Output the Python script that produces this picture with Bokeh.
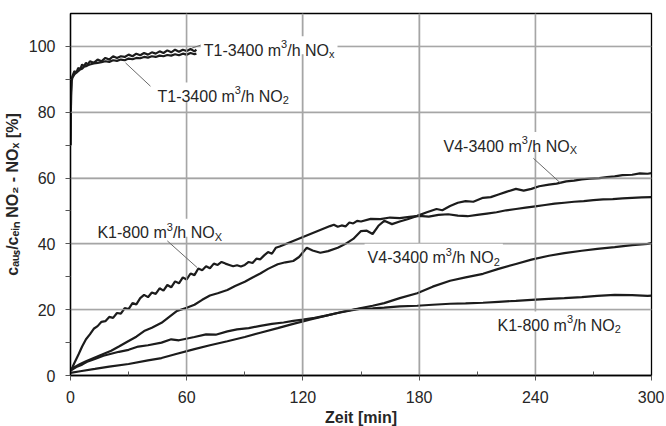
from bokeh.plotting import figure
from bokeh.models import Label, BoxAnnotation, FixedTicker, Range1d
from bokeh.embed import file_html
from bokeh.resources import INLINE

# ---------------- data ----------------
t1_t = [0, 0.3, 0.6, 1, 2, 3, 4, 5, 6, 7, 8, 9, 10, 12, 14, 16, 18, 20, 22, 24, 26, 28,
        30, 32, 34, 36, 38, 40, 42, 44, 46, 48, 50, 52, 54, 56, 58, 60, 62, 64, 65]
t1_nox = [70, 85, 90, 91, 92.5, 92, 93.5, 93, 94.5, 94, 95, 94.5, 95.5, 95, 96, 95.5, 96.5,
          96, 97, 96.5, 97, 96.8, 97.5, 97, 97.8, 97.3, 98, 97.5, 98.2, 97.8, 98.5, 98,
          98.8, 98.2, 99, 98.4, 99, 98.6, 99.2, 98.5, 99]
t1_no2 = [70, 86, 89.5, 90.5, 91.5, 92, 92.5, 93, 93.2, 93.8, 94, 94.3, 94.5, 94.8, 95,
          95.2, 95.5, 95.3, 95.8, 95.6, 96, 95.8, 96.3, 96.1, 96.5, 96.4, 96.8, 96.6, 97,
          96.8, 97.2, 97, 97.4, 97.2, 97.6, 97.3, 97.8, 97.5, 98, 97.6, 97.8]

k1_nox_t = [0, 1, 2, 3, 4, 5, 6, 8, 10, 12, 14, 16, 18, 20, 22, 24, 26, 28, 30, 32, 34, 36,
            38, 40, 42, 44, 46, 48, 50, 52, 54, 56, 58, 60, 62, 64, 66, 68, 70, 72, 74, 76,
            78, 80, 82, 84, 86, 88, 90, 92, 94, 96, 98, 100, 102, 104, 106, 108, 134, 136,
            138, 140, 142, 144, 146, 148, 150, 155, 160, 165, 170, 175, 180, 185, 190, 195,
            200, 205, 210, 215, 220, 225, 230, 235, 240, 245, 250, 255, 260, 265, 270, 275,
            280, 285, 290, 295, 300]
k1_nox = [1.5, 2.5, 3.8, 5, 6.2, 7.5, 8.8, 11, 12.5, 14.2, 15, 16.3, 16.5, 17.8, 17.5, 19,
          18.8, 20.5, 20.2, 22, 21.6, 23.5, 24.5, 23.8, 25.2, 24.8, 26.5, 25.8, 27.5, 26.8,
          28.6, 28, 29.8, 29.2, 31, 30.5, 32.5, 32, 33.2, 32.6, 34, 33.6, 34.5, 34, 33.6,
          33.2, 33.5, 33.1, 33.6, 34.5, 34.2, 35.5, 35.3, 36.5, 37.5, 37, 38.8, 39.2, 45.4,
          45.8, 45.2, 45.6, 45.3, 46.5, 46.2, 47, 46.8, 47.6, 47.5, 48, 47.8, 48.2, 48.5,
          48.3, 48.8, 49, 48.6, 48.4, 48.8, 49.2, 49.6, 50.2, 50.6, 51, 51.4, 51.8, 52.2,
          52.5, 52.8, 53, 53.3, 53.5, 53.6, 53.8, 54, 54.1, 54.2]

v4_nox_t = [0, 2, 5, 8, 12, 16, 21, 25, 30, 34, 38, 42, 47, 51, 55, 60, 64, 68, 72, 76, 81,
            85, 90, 94, 98, 102, 107, 111, 115, 118, 122, 125, 129, 133, 138, 142, 146, 150,
            153, 156, 159, 162, 166, 170, 174, 179, 184, 189, 192, 196, 200, 204, 208, 213,
            217, 221, 225, 230, 234, 238, 242, 247, 251, 256, 260, 264, 268, 273, 277, 281,
            285, 290, 294, 298, 300]
v4_nox = [1.5, 2.5, 3.5, 4.3, 5.3, 6.3, 7.5, 8.8, 10.5, 11.8, 13.5, 14.5, 16, 17.8, 19.6,
          20.6, 21.5, 23, 24.3, 25, 26, 27.2, 28.5, 29.8, 31, 32.4, 33.8, 34.4, 34.8, 36,
          38.8, 38, 37.3, 37.8, 38.8, 40, 41.5, 43.9, 44, 43, 45.5, 47, 46, 46.8, 47.5, 48.5,
          49.6, 50.6, 50.2, 51.5, 52.5, 53, 52.8, 54, 54.2, 55, 55.8, 56.7, 56.2, 56.7, 57.5,
          58, 58.3, 59, 59.2, 59.6, 59.8, 60, 60.3, 60.5, 60.9, 61, 61.4, 61.3, 61.5]

v4_no2_t = [0, 5, 12.6, 20, 30, 40, 47, 55, 64, 72, 81, 90, 98, 107, 115, 124, 132, 140, 150,
            156, 162, 170, 179, 187, 196, 204, 213, 221, 230, 238, 247, 255, 264, 272, 281,
            290, 298, 300]
v4_no2 = [0.8, 1.3, 2, 2.7, 3.5, 4.6, 5.3, 6.6, 8, 9.2, 10.4, 11.7, 13, 14.4, 15.7, 17,
          18.2, 19.3, 20.5, 21.2, 22, 23.5, 25, 27, 28.8, 29.8, 30.9, 32.4, 33.9, 35.2, 36.4,
          37.2, 37.9, 38.5, 39, 39.6, 40, 40.2]

k1_no2_t = [0, 3, 6, 9, 12.6, 17, 21, 25, 30, 35, 40, 47, 52, 56, 64, 70, 75, 81, 86, 92, 98,
            104, 110, 115, 120, 126, 132, 138, 144, 150, 156, 162, 170, 179, 187, 196, 204,
            213, 221, 230, 238, 247, 255, 264, 272, 281, 290, 298, 300]
k1_no2 = [1.5, 2.6, 3.3, 4.3, 5, 6, 6.6, 7.2, 7.8, 8.8, 9.2, 10, 11, 10.7, 11.7, 12.5, 12.4,
          13.4, 14, 14.4, 15.1, 15.7, 16.1, 16.6, 17, 17.5, 18.2, 19, 19.7, 20.3, 20.4, 20.6,
          21, 21.2, 21.5, 21.8, 21.9, 22.1, 22.4, 22.7, 23, 23.3, 23.5, 23.8, 24.2, 24.5,
          24.4, 24.2, 24.3]

x_ticks = [0, 60, 120, 180, 240, 300]
x_minor = [30, 90, 150, 210, 270]
y_ticks = [0, 20, 40, 60, 80, 100]
y_minor = [10, 30, 50, 70, 90]

x_title = "Zeit [min]"
y_title = "c\u2090\u1d64\u209b/c\u2091\u1d62\u2099 NO\u2082 - NO\u2093 [%]"

# ---------------- figure ----------------
FW, FH = 581, 362
XMAX, YMAX = 300, 110
PX_X, PX_Y = FW / XMAX, FH / YMAX
FONT = "Liberation Sans"
TXT = "#262626"

p = figure(frame_width=FW, frame_height=FH, x_range=Range1d(0, XMAX), y_range=Range1d(0, YMAX),
           output_backend="svg", toolbar_location=None,
           min_border_left=70, min_border_right=13, min_border_top=13, min_border_bottom=10)
p.outline_line_color = "black"
p.outline_line_width = 1.3

for ax in (p.xaxis[0], p.yaxis[0]):
    ax.axis_line_color = "black"
    ax.axis_line_width = 1.3
    ax.major_tick_line_color = "#555555"
    ax.minor_tick_line_color = "#555555"
    ax.major_label_text_font = FONT
    ax.major_label_text_font_size = "16px"
    ax.major_label_text_color = TXT
    ax.axis_label_text_font = FONT
    ax.axis_label_text_font_size = "16px"
    ax.axis_label_text_font_style = "bold"
    ax.axis_label_text_color = TXT
    ax.major_tick_in = 0
    ax.major_tick_out = 5

p.xaxis.axis_label = x_title
p.yaxis.axis_label = y_title
p.xaxis.ticker = FixedTicker(ticks=x_ticks, minor_ticks=x_minor)
p.yaxis.ticker = FixedTicker(ticks=y_ticks, minor_ticks=y_minor)
p.xaxis.minor_tick_in = 4
p.xaxis.minor_tick_out = 0
p.yaxis.minor_tick_in = 0
p.yaxis.minor_tick_out = 5
p.xaxis.major_label_standoff = 10
p.xaxis.axis_label_standoff = 3
p.yaxis.major_label_standoff = 10
p.yaxis.axis_label_standoff = 5

p.xgrid.grid_line_color = "#a0a0a0"
p.ygrid.grid_line_color = "#a0a0a0"
p.xgrid.grid_line_width = 1.5
p.ygrid.grid_line_width = 1.5

LC = "#1c1c1c"
LW = 2.2
p.line(t1_t, t1_no2, line_color=LC, line_width=LW)
p.line(t1_t, t1_nox, line_color=LC, line_width=LW)
p.line(k1_nox_t, k1_nox, line_color=LC, line_width=LW)
p.line(v4_nox_t, v4_nox, line_color=LC, line_width=LW)
p.line(v4_no2_t, v4_no2, line_color=LC, line_width=LW)
p.line(k1_no2_t, k1_no2, line_color=LC, line_width=LW)

# grid lines from the tick positions
p.segment(x0=x_ticks[1:-1], y0=[0] * (len(x_ticks) - 2), x1=x_ticks[1:-1],
          y1=[YMAX] * (len(x_ticks) - 2), line_color="#a8a8a8", line_width=1)
p.segment(x0=[0] * (len(y_ticks) - 1), y0=y_ticks[1:], x1=[XMAX] * (len(y_ticks) - 1),
          y1=y_ticks[1:], line_color="#a8a8a8", line_width=1)

# ---------------- text helpers ----------------
W_REG = {' ': 278, '-': 333, '/': 278, '[': 278, ']': 278, '%': 889,
         'K': 667, 'N': 722, 'O': 778, 'T': 611, 'V': 667, 'X': 667, 'Z': 611,
         'a': 556, 'c': 500, 'e': 556, 'h': 556, 'i': 222, 'm': 833, 'n': 556,
         's': 500, 't': 278, 'u': 556, 'x': 500}


def tw(s, fs):
    return sum(W_REG.get(ch, 556) for ch in s) * fs / 1000.0


def rich_label(x, y, segs, fs=16, small=11):
    total = sum(tw(t, fs if k == "n" else small) for t, k in segs)
    pad = 3
    p.add_layout(BoxAnnotation(left=x - pad / PX_X, right=x + (total + pad) / PX_X,
                               bottom=y - 4 / PX_Y, top=y + 14 / PX_Y,
                               fill_color="white", fill_alpha=1.0, line_alpha=0))
    cur = 0.0
    for text, kind in segs:
        size = fs if kind == "n" else small
        dy = 0 if kind == "n" else (6 if kind == "sup" else -4)
        p.add_layout(Label(x=x, y=y, x_offset=cur, y_offset=dy, text=text,
                           text_font=FONT, text_font_size=f"{size}px", text_color=TXT,
                           text_baseline="alphabetic", text_align="left"))
        cur += tw(text, size)


def leader(x0, y0, x1, y1):
    p.line([x0, x1], [y0, y1], line_color="#6a6a6a", line_width=1)


leader(68.8, 100.7, 62.8, 99.5)
leader(28.4, 95.0, 41.3, 87.9)
leader(239.0, 66.0, 253.0, 58.5)
leader(50.0, 40.9, 65.4, 32.8)

# curve labels
rich_label(68.8, 98.8, [("T1-3400 m", "n"), ("3", "sup"), ("/h NO", "n"), ("x", "sub")])
rich_label(44.9, 84.8, [("T1-3400 m", "n"), ("3", "sup"), ("/h NO", "n"), ("2", "sub")])
rich_label(13.9, 43.4, [("K1-800 m", "n"), ("3", "sup"), ("/h NO", "n"), ("X", "sub")])
rich_label(192.6, 69.7, [("V4-3400 m", "n"), ("3", "sup"), ("/h NO", "n"), ("X", "sub")])
rich_label(153.4, 35.8, [("V4-3400 m", "n"), ("3", "sup"), ("/h NO", "n"), ("2", "sub")])
rich_label(220.5, 15.2, [("K1-800 m", "n"), ("3", "sup"), ("/h NO", "n"), ("2", "sub")])

open("out.html", "w").write(file_html(p, INLINE))
